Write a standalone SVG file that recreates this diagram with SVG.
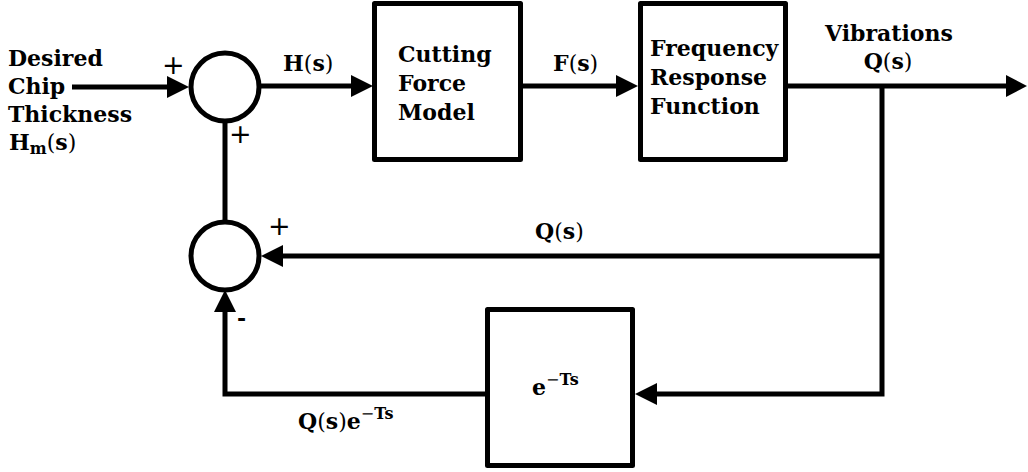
<svg xmlns="http://www.w3.org/2000/svg" width="1028" height="472" viewBox="0 0 1028 472">
<defs>
<style>
.t{font-family:"DejaVu Serif","Liberation Serif",serif;font-size:22px;font-weight:bold;fill:#000}
.n{font-weight:normal}
.sup{font-size:16px}
.pm{font-family:"DejaVu Sans",sans-serif;font-size:27px;font-weight:normal;fill:#000}
.ln{fill:none;stroke:#000;stroke-width:5}
.bx{fill:#fff;stroke:#000;stroke-width:5;stroke-linejoin:round}
.ah{fill:#000}
</style>
</defs>
<rect width="1028" height="472" fill="#fff"/>

<g id="connectors">
<line class="ln" x1="72" y1="87" x2="170" y2="87"/>
<polygon class="ah" points="189,87 167,76 167,98"/>
<line class="ln" x1="259" y1="86" x2="355" y2="86"/>
<polygon class="ah" points="373,86 351,75 351,97"/>
<line class="ln" x1="522" y1="86" x2="618" y2="86"/>
<polygon class="ah" points="638,86 616,75 616,97"/>
<line class="ln" x1="786" y1="86" x2="1008" y2="86"/>
<polygon class="ah" points="1027,86 1006,75 1006,97"/>
<polyline class="ln" points="882,86 882,394 655,394"/>
<polygon class="ah" points="635,394 657,383 657,405"/>
<line class="ln" x1="882" y1="256" x2="281" y2="256"/>
<polygon class="ah" points="261,256 283,245 283,267"/>
<line class="ln" x1="225" y1="121" x2="225" y2="222"/>
<polyline class="ln" points="487,394 225,394 225,308"/>
<polygon class="ah" points="225,290 214,312 236,312"/>
</g>

<g id="sum1">
<circle class="ln" cx="225" cy="87" r="34"/>
<text class="pm" x="162" y="74">+</text>
<text class="pm" x="229" y="143">+</text>
</g>

<g id="sum2">
<circle class="ln" cx="225" cy="256" r="34"/>
<text class="pm" x="268" y="235">+</text>
<text class="t" x="237" y="326">-</text>
</g>

<g id="input-label">
<text class="t" x="8" y="66">Desired</text>
<text class="t" x="8" y="94">Chip</text>
<text class="t" x="8" y="122">Thickness</text>
<text class="t" x="9" y="150">H<tspan font-size="16" dy="4">m</tspan><tspan class="n" dy="-4">(</tspan>s<tspan class="n">)</tspan></text>
</g>

<g id="label-H">
<text class="t" x="283" y="71">H<tspan class="n">(</tspan>s<tspan class="n">)</tspan></text>
</g>

<g id="cutting-force-model">
<rect class="bx" x="374.5" y="3.5" width="146" height="156"/>
<text class="t" x="398" y="62">Cutting</text>
<text class="t" x="398" y="91">Force</text>
<text class="t" x="398" y="120">Model</text>
</g>

<g id="label-F">
<text class="t" x="553" y="71">F<tspan class="n">(</tspan>s<tspan class="n">)</tspan></text>
</g>

<g id="frequency-response-function">
<rect class="bx" x="640.5" y="3.5" width="145" height="156"/>
<text class="t" x="650" y="56">Frequency</text>
<text class="t" x="650" y="85">Response</text>
<text class="t" x="650" y="114">Function</text>
</g>

<g id="output-label">
<text class="t" x="889" y="41" text-anchor="middle">Vibrations</text>
<text class="t" x="888" y="69" text-anchor="middle">Q<tspan class="n">(</tspan>s<tspan class="n">)</tspan></text>
</g>

<g id="label-Q-feedback">
<text class="t" x="535" y="239">Q<tspan class="n">(</tspan>s<tspan class="n">)</tspan></text>
</g>

<g id="delay">
<rect class="bx" x="487.5" y="309.5" width="145" height="156"/>
<text class="t" x="532" y="395">e<tspan class="sup n" dy="-10">−</tspan><tspan class="sup">Ts</tspan></text>
</g>

<g id="label-delayed">
<text class="t" x="298" y="429">Q<tspan class="n">(</tspan>s<tspan class="n">)</tspan>e<tspan class="sup n" dy="-10">−</tspan><tspan class="sup">Ts</tspan></text>
</g>
</svg>
